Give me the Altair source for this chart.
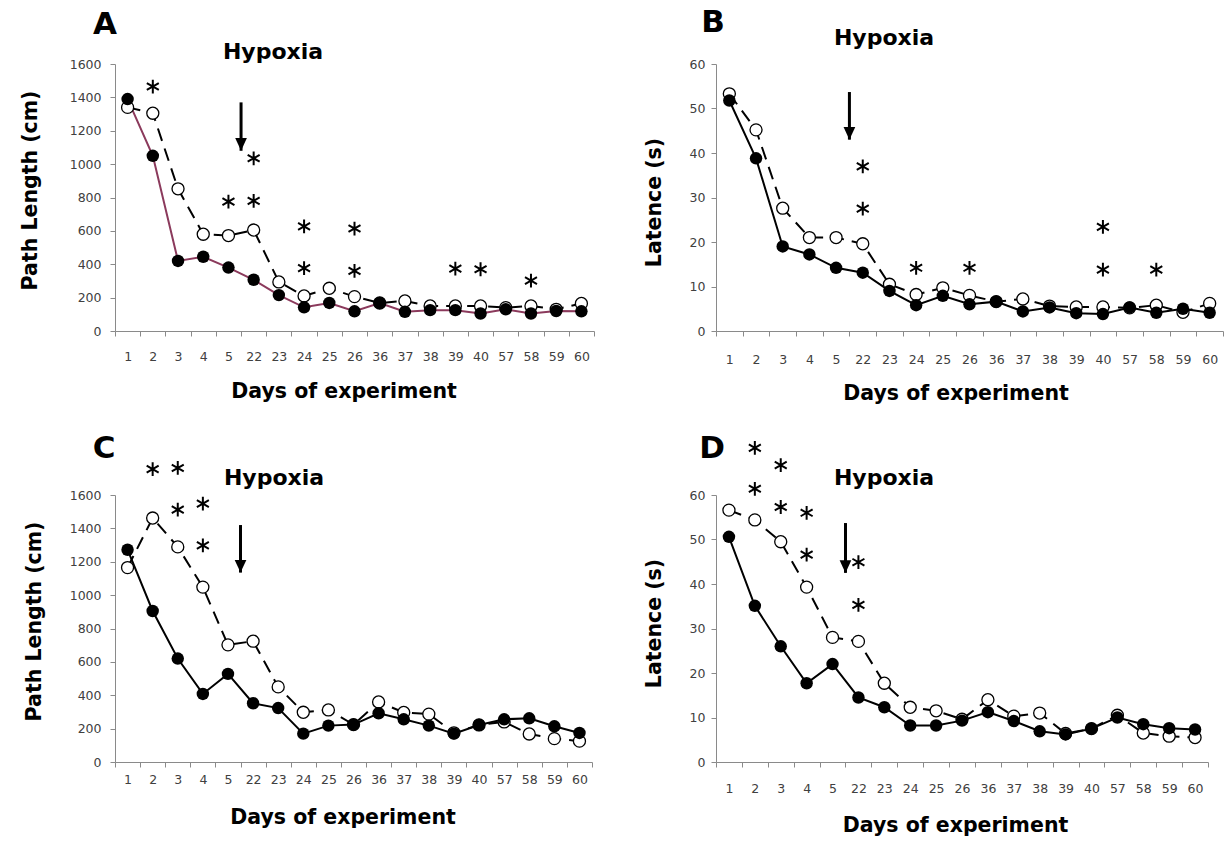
import altair as alt
import pandas as pd

days = ["1", "2", "3", "4", "5", "22", "23", "24", "25", "26", "36", "37", "38",
        "39", "40", "57", "58", "59", "60"]

# Panel A - path length (cm)
a_filled = [1390, 1050, 420, 445, 380, 307, 215, 142, 168, 118, 168, 115, 125, 125, 105, 130, 105, 120, 118]
a_open = [1340, 1305, 852, 580, 572, 605, 294, 210, 256, 206, 168, 180, 150, 150, 150, 140, 150, 130, 165]
a_star_day = ["2", "5", "22", "22", "24", "24", "26", "26", "39", "40", "58"]
a_star_val = [1465, 775, 1035, 780, 627, 377, 614, 360, 374, 370, 302]
a_arrow = [1370, 1080]

# Panel B - latence (s)
b_filled = [51.8, 38.8, 19, 17.2, 14.2, 13.1, 9, 5.8, 7.9, 6, 6.6, 4.4, 5.3, 4, 3.8, 5.3, 4.1, 5, 4.1]
b_open = [53.3, 45.2, 27.6, 21, 21, 19.6, 10.5, 8.2, 9.7, 8, 6.6, 7.2, 5.6, 5.4, 5.4, 5.2, 5.8, 4.2, 6.2]
b_star_day = ["22", "22", "24", "26", "40", "40", "58"]
b_star_val = [37, 27.5, 14.2, 14.2, 23.4, 13.8, 13.8]
b_arrow = [53.7, 43]

# Panel C - path length (cm)
c_filled = [1272, 905, 620, 408, 528, 352, 323, 170, 218, 224, 292, 256, 218, 170, 222, 256, 262, 214, 174]
c_open = [1165, 1462, 1289, 1048, 702, 724, 450, 298, 312, 224, 360, 297, 287, 175, 222, 240, 168, 140, 125]
c_star_day = ["2", "3", "3", "4", "4"]
c_star_val = [1755, 1762, 1512, 1548, 1298]
c_arrow = [1420, 1135]

# Panel D - latence (s)
d_filled = [50.6, 35.1, 26, 17.7, 22, 14.5, 12.3, 8.2, 8.2, 9.3, 11.2, 9.2, 6.9, 6.2, 7.5, 10, 8.5, 7.6, 7.3]
d_open = [56.6, 54.4, 49.5, 39.3, 28, 27.1, 17.7, 12.3, 11.5, 9.6, 14, 10.3, 11, 6.4, 7.5, 10.5, 6.5, 5.8, 5.5]
d_star_day = ["2", "2", "3", "3", "4", "4", "22", "22"]
d_star_val = [70.6, 61.4, 66.7, 57.3, 56, 46.6, 44.9, 35.3]
d_arrow = [53.7, 42.5]

STAR = "M0,-1L0,1M-0.87,-0.5L0.87,0.5M-0.87,0.5L0.87,-0.5"
HEAD = "M-0.6,-1.3L0.6,-1.3L0,0Z"
BOLD = "DejaVu Sans"


def panel(filled, opened, star_day, star_val, arrow, ymax, ystep, ytitle,
          letter, letter_xy, hyp_xy, width, height, line_color,
          xlab_pad, xtitle_pad, title_dx, ylab_pad, ytitle_pad, ytitle_y):
    xscale = alt.Scale(type="band", domain=days, paddingInner=0, paddingOuter=0)
    xaxis = alt.Axis(title="Days of experiment", labelAngle=0, tickBand="extent",
                     labelPadding=xlab_pad, titlePadding=xtitle_pad,
                     titleX=width / 2 + title_dx)
    yscale = alt.Scale(domain=[0, ymax], nice=False, zero=True)
    yaxis = alt.Axis(title=ytitle, values=list(range(0, ymax + 1, ystep)), format="d",
                     labelPadding=ylab_pad, titlePadding=ytitle_pad, titleY=ytitle_y)

    def X(**kw):
        return alt.X("day:N", scale=xscale, axis=xaxis, sort=days, **kw)

    def Y(field="value"):
        return alt.Y(f"{field}:Q", scale=yscale, axis=yaxis)

    df_f = pd.DataFrame({"day": days, "value": filled})
    df_o = pd.DataFrame({"day": days, "value": opened})
    df_s = pd.DataFrame({"day": star_day, "value": star_val})
    df_a = pd.DataFrame({"day": ["5"], "value": [arrow[0]], "tip": [arrow[1]]})

    open_line = alt.Chart(df_o).mark_line(color="black", strokeWidth=2,
                                          strokeDash=[13, 8]).encode(x=X(), y=Y())
    filled_line = alt.Chart(df_f).mark_line(color=line_color, strokeWidth=2).encode(x=X(), y=Y())
    open_pts = alt.Chart(df_o).mark_point(shape="circle", filled=True, fill="white",
                                          stroke="black", strokeWidth=1.3, size=145,
                                          opacity=1).encode(x=X(), y=Y())
    filled_pts = alt.Chart(df_f).mark_point(shape="circle", filled=True, color="black",
                                            size=155, opacity=1).encode(x=X(), y=Y())
    stars = alt.Chart(df_s).mark_point(shape=STAR, filled=False, stroke="black",
                                       strokeWidth=2, size=190, opacity=1).encode(x=X(), y=Y())
    shaft = alt.Chart(df_a).mark_rule(color="black", strokeWidth=3).encode(
        x=X(bandPosition=1), y=Y(), y2="tip:Q")
    head = alt.Chart(df_a).mark_point(shape=HEAD, filled=True, color="black",
                                      size=380, opacity=1).encode(
        x=X(bandPosition=1), y=Y("tip"))
    lab = alt.Chart(pd.DataFrame({"t": [letter]})).mark_text(
        font=BOLD, fontWeight="bold", fontSize=31, align="center", baseline="middle",
        color="black").encode(text="t:N", x=alt.value(letter_xy[0]), y=alt.value(letter_xy[1]))
    hyp = alt.Chart(pd.DataFrame({"t": ["Hypoxia"]})).mark_text(
        font=BOLD, fontWeight="bold", fontSize=22, align="center", baseline="middle",
        color="black").encode(text="t:N", x=alt.value(hyp_xy[0]), y=alt.value(hyp_xy[1]))

    return alt.layer(open_line, filled_line, open_pts, filled_pts, stars, shaft, head,
                     lab, hyp).properties(width=width, height=height)


pA = panel(a_filled, a_open, a_star_day, a_star_val, a_arrow, 1600, 200,
           "Path Length (cm)", "A", (-10, -39), (158, -12), 479, 267, "#8B3A5C",
           14, 19, -11, 9, 29, 126)
pB = panel(b_filled, b_open, b_star_day, b_star_val, b_arrow, 60, 10,
           "Latence (s)", "B", (-3, -41), (168, -26), 507, 267, "black",
           17, 18, -14, 6, 25, 138)
pC = panel(c_filled, c_open, c_star_day, c_star_val, c_arrow, 1600, 200,
           "Path Length (cm)", "C", (-11, -46), (159, -17), 477, 267, "black",
           6, 22, -11, 9, 25, 126)
pD = panel(d_filled, d_open, d_star_day, d_star_val, d_arrow, 60, 10,
           "Latence (s)", "D", (-4, -46), (168, -17), 492, 267, "black",
           15, 21, -7, 6, 25, 128)

chart = alt.concat(pA, pB, pC, pD, columns=2, spacing={"row": 164, "column": 122},
                   bounds="flush", align="each").properties(
    padding={"left": 20, "top": 7, "right": 2, "bottom": 2},
    background="white",
).configure_axis(
    labelFont="DejaVu Sans", labelFontSize=12.5, labelColor="#404040",
    titleFont=BOLD, titleFontSize=20.5, titleFontWeight="bold", titleColor="black",
    domainColor="#8a8a8a", tickColor="#8a8a8a", tickSize=5, grid=False,
).configure_view(stroke=None)

chart.save("out.html", embed_options={"renderer": "svg", "actions": False})
